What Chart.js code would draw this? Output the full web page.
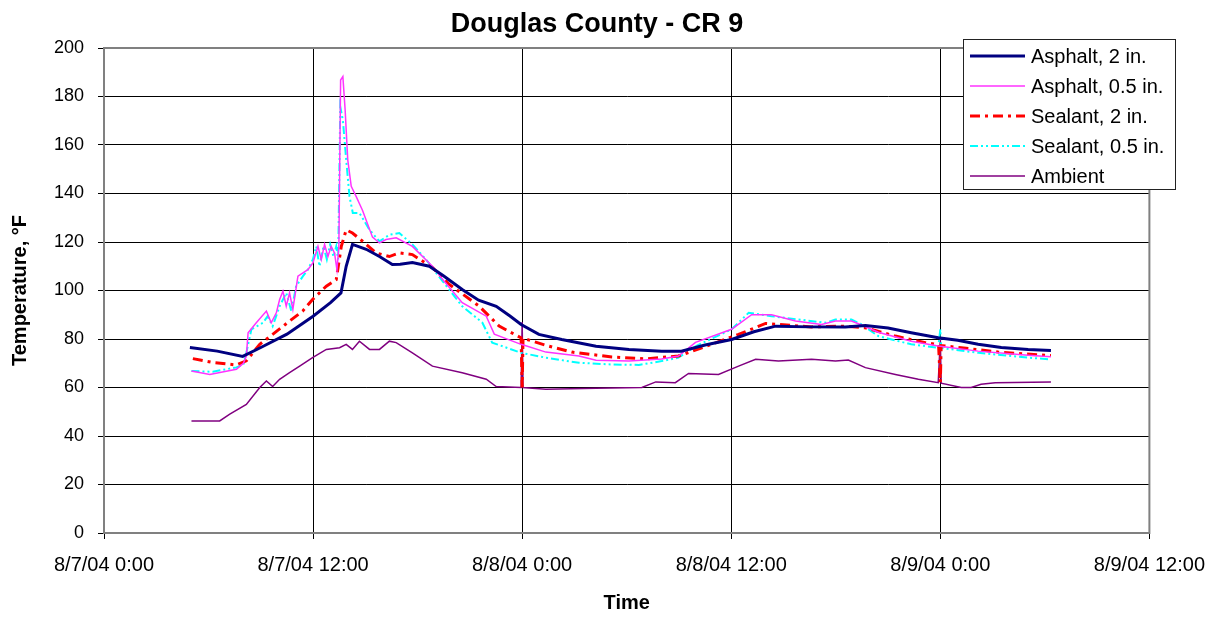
<!DOCTYPE html>
<html>
<head>
<meta charset="utf-8">
<title>Douglas County - CR 9</title>
<script src="https://cdn.jsdelivr.net/npm/chart.js@4.4.1/dist/chart.umd.min.js"></script>
<style>
  html, body { margin: 0; padding: 0; background: #fff; }
  #wrap { width: 1219px; height: 617px; }
</style>
</head>
<body>
<div id="wrap"><canvas id="tempChart" width="1219" height="617"></canvas></div>
<script>
// Hours since 8/7/04 0:00, temperature in °F
const tickLabels = ['8/7/04 0:00', '8/7/04 12:00', '8/8/04 0:00', '8/8/04 12:00', '8/9/04 0:00', '8/9/04 12:00'];
const seriesNames = ['Asphalt, 2 in.', 'Asphalt, 0.5 in.', 'Sealant, 2 in.', 'Sealant, 0.5 in.', 'Ambient'];

const asphalt2 = [
    [4.93, 76.5], [6.5, 75], [7.96, 72.8], [9.0, 76.5], [10.5, 82], [12.0, 89.4], [13.0, 95], [13.6, 99],
    [13.9, 110], [14.26, 119], [14.66, 118], [15.05, 117], [15.81, 114], [16.55, 110.7], [17.0, 110.8],
    [17.7, 111.5], [18.67, 110], [19.5, 106], [20.56, 100.4], [21.5, 96], [22.51, 93.5], [23.3, 89.5],
    [23.94, 86], [24.96, 81.9], [26.27, 79.8], [28.24, 77], [30.13, 75.7], [32.01, 75], [33.14, 75],
    [34.5, 77.5], [36.02, 79.8], [37.3, 83], [38.54, 85.3], [40.5, 85], [42.55, 84.9], [43.7, 85.6],
    [45.0, 84.5], [46.33, 82.6], [47.88, 80.5], [49.0, 79.5], [50.17, 77.8], [51.5, 76.5], [53.04, 75.7],
    [54.35, 75.3]
];

const asphalt05 = [
    [5.02, 66.8], [6.07, 65.4], [7.6, 67.5], [8.0, 70], [8.17, 73], [8.27, 82.6], [8.74, 86.7], [9.32, 91.5],
    [9.6, 86.7], [9.89, 90.8], [10.08, 96.3], [10.27, 99.7], [10.46, 93.5], [10.65, 99], [10.84, 92.2],
    [11.13, 105.9], [11.42, 107.3], [11.7, 108.6], [11.99, 111.4], [12.28, 118.2], [12.47, 112.8],
    [12.66, 119], [12.85, 114], [13.04, 118.2], [13.23, 115.5], [13.37, 108.6], [13.48, 118.2],
    [13.58, 186.8], [13.71, 188.2], [13.84, 174.5], [13.99, 153.9], [14.19, 143], [14.47, 138.8],
    [14.84, 133], [15.41, 122], [15.81, 119.6], [16.19, 121], [16.77, 121.7], [17.7, 118.2], [18.85, 110],
    [19.5, 104], [20.56, 95], [21.94, 89.4], [22.4, 82], [23.94, 77.8], [25.36, 74.6], [27.26, 73],
    [28.24, 71.2], [30.13, 70.9], [32.01, 71.8], [32.97, 73], [33.95, 78.6], [36.02, 84], [37.17, 90],
    [38.31, 90], [39.69, 87.4], [41.18, 86], [41.98, 87.4], [42.9, 87.4], [43.41, 86], [44.44, 82.8],
    [46.33, 79.1], [47.88, 77.1], [50.17, 75], [53.04, 73.3], [54.35, 72.7]
];

const sealant2 = [
    [5.1, 71.9], [6.24, 70.3], [7.6, 69.3], [8.17, 71], [8.94, 77.8], [9.68, 81.9], [10.65, 87.4],
    [11.4, 91.5], [11.97, 96.3], [12.76, 101.8], [13.33, 104.5], [13.62, 118.2], [13.9, 125], [14.26, 123.7],
    [14.84, 120.3], [15.62, 115.5], [16.38, 114], [16.95, 115.5], [17.7, 114.8], [18.85, 109.5],
    [19.82, 102.5], [21.54, 93.5], [22.68, 85.3], [23.94, 80.5], [24.0, 60], [24.05, 80.3], [25.36, 77.4],
    [26.86, 74.6], [29.15, 72.6], [31.1, 71.8], [32.97, 73], [34.87, 77.8], [36.42, 81.9], [37.97, 86.4],
    [40.61, 85], [42.55, 85.3], [43.7, 84.6], [45.42, 81.2], [47.14, 78.5], [47.9, 77.6], [48.0, 62],
    [48.05, 77.3], [49.2, 76.4], [51.32, 74.6], [54.01, 73.3], [54.35, 73.2]
];

const sealant05 = [
    [5.02, 66.8], [6.24, 66.5], [7.6, 68.3], [8.0, 69.5], [8.17, 74.3], [8.46, 84], [9.13, 86.7], [9.39, 89.4],
    [9.68, 85.3], [10.08, 93.5], [10.46, 99], [10.75, 91.5], [11.03, 101.8], [11.42, 105.9], [11.7, 108.6],
    [11.99, 112.8], [12.18, 118.2], [12.37, 110], [12.6, 118.2], [12.79, 112.8], [12.98, 119], [13.17, 114],
    [13.33, 118.2], [13.44, 112.8], [13.56, 175.8], [13.71, 170.3], [13.9, 153.9], [14.09, 138.8],
    [14.28, 132], [14.66, 132], [15.24, 125], [15.81, 120.3], [16.38, 123], [16.95, 123.7], [17.7, 119],
    [18.48, 112.8], [19.06, 107.3], [20.56, 93.5], [21.71, 86.8], [22.28, 78.5], [23.94, 74.3],
    [25.36, 72.3], [27.26, 70.2], [29.15, 69.5], [30.7, 69.3], [32.01, 70.9], [32.97, 72.3], [33.95, 77],
    [36.02, 84], [37.0, 90.8], [38.31, 89.4], [41.41, 86.7], [41.98, 88], [42.9, 88], [43.41, 86.3],
    [44.44, 81.2], [46.33, 77.8], [47.88, 76.4], [48.0, 84], [48.05, 76.3], [50.17, 74.3], [53.04, 72.3],
    [54.35, 71.6]
];

const ambient = [
    [5.02, 46.2], [6.64, 46.2], [7.22, 49], [8.17, 53], [8.94, 60], [9.32, 62.7], [9.68, 60.4], [10.08, 63.4],
    [10.65, 66.1], [11.23, 68.8], [11.97, 72.3], [12.76, 75.7], [13.52, 76.4], [13.9, 77.8], [14.26, 75.7],
    [14.66, 79.1], [15.24, 75.7], [15.81, 75.7], [16.38, 79.1], [16.77, 78.5], [17.7, 74.3], [18.85, 68.8],
    [20.56, 66.1], [21.94, 63.4], [22.51, 60.4], [23.94, 60], [24.0, 87], [24.05, 60], [25.36, 59.3],
    [28.24, 59.7], [30.87, 60], [31.67, 62.3], [32.79, 62], [33.55, 65.8], [35.27, 65.4], [36.42, 68.8],
    [37.4, 71.6], [38.71, 70.9], [40.61, 71.6], [41.98, 70.9], [42.72, 71.3], [43.7, 68.2], [45.42, 65.4],
    [46.74, 63.4], [47.88, 62], [48.0, 80], [48.05, 61.8], [49.2, 60], [49.77, 60], [50.34, 61.3],
    [51.15, 62], [54.35, 62.3]
];

const FONT = "'Liberation Sans', Arial, sans-serif";

function toPoints(arr) {
    return arr.map(p => ({ x: p[0], y: p[1] }));
}

// Title drawn by hand so it sits where the original one does
const titlePlugin = {
    id: 'titlePlugin',
    afterDraw(chart) {
        const ctx = chart.ctx;
        ctx.save();
        ctx.fillStyle = '#000';
        ctx.font = 'bold 27px ' + FONT;
        ctx.textAlign = 'center';
        ctx.textBaseline = 'alphabetic';
        ctx.fillText('Douglas County - CR 9', 597, 32);
        ctx.restore();
    }
};

// Gray frame round the plot area
const framePlugin = {
    id: 'framePlugin',
    beforeDatasetsDraw(chart) {
        const a = chart.chartArea;
        const ctx = chart.ctx;
        ctx.save();
        ctx.strokeStyle = '#808080';
        ctx.lineWidth = 2;
        ctx.strokeRect(a.left, a.top, a.right - a.left, a.bottom - a.top);
        ctx.restore();
    }
};

// Excel style boxed legend over the top right corner
const legendBoxPlugin = {
    id: 'legendBoxPlugin',
    afterDraw(chart) {
        const ctx = chart.ctx;
        const x0 = 963, y0 = 39, w = 212, h = 150;
        ctx.save();
        ctx.fillStyle = '#fff';
        ctx.fillRect(x0, y0, w, h);
        ctx.strokeStyle = '#222';
        ctx.lineWidth = 1;
        ctx.strokeRect(x0 + 0.5, y0 + 0.5, w, h);
        ctx.font = '20px ' + FONT;
        ctx.textBaseline = 'middle';
        ctx.textAlign = 'left';
        chart.data.datasets.forEach((ds, i) => {
            const yy = y0 + 17 + i * 30;
            ctx.beginPath();
            ctx.strokeStyle = ds.borderColor;
            ctx.lineWidth = ds.borderWidth;
            ctx.setLineDash(ds.borderDash || []);
            ctx.moveTo(970, yy);
            ctx.lineTo(1025, yy);
            ctx.stroke();
            ctx.setLineDash([]);
            ctx.fillStyle = '#000';
            ctx.fillText(ds.label, 1031, yy + 1);
        });
        ctx.restore();
    }
};

const ctx = document.getElementById('tempChart').getContext('2d');
const tempChart = new Chart(ctx, {
    type: 'line',
    data: {
        datasets: [
            { label: seriesNames[0], data: toPoints(asphalt2), borderColor: '#000080', borderWidth: 3 },
            { label: seriesNames[1], data: toPoints(asphalt05), borderColor: '#ff33ff', borderWidth: 1.5 },
            { label: seriesNames[2], data: toPoints(sealant2), borderColor: '#ff0000', borderWidth: 3, borderDash: [10, 5, 3, 5] },
            { label: seriesNames[3], data: toPoints(sealant05), borderColor: '#00ffff', borderWidth: 2, borderDash: [8, 3, 2, 3, 2, 3] },
            { label: seriesNames[4], data: toPoints(ambient), borderColor: '#800080', borderWidth: 1.5 }
        ]
    },
    options: {
        responsive: false,
        animation: false,
        devicePixelRatio: 1,
        layout: { padding: { top: 48, right: 67, left: 0, bottom: 0 } },
        elements: {
            point: { radius: 0, hoverRadius: 0 },
            line: { tension: 0, fill: false }
        },
        plugins: {
            legend: { display: false },
            title: { display: false },
            tooltip: { enabled: false }
        },
        scales: {
            x: {
                type: 'linear',
                min: 0,
                max: 60,
                afterFit: scale => { scale.height = 84; },
                grid: { color: '#000', lineWidth: 1, tickLength: 6 },
                border: { color: '#808080', width: 2 },
                ticks: {
                    stepSize: 12,
                    color: '#000',
                    font: { family: FONT, size: 20 },
                    padding: 14,
                    maxRotation: 0,
                    autoSkip: false,
                    callback: v => tickLabels[Math.round(v / 12)]
                },
                title: {
                    display: true,
                    text: 'Time',
                    color: '#000',
                    font: { family: FONT, size: 20, weight: 'bold' },
                    padding: { top: 0, bottom: 2 }
                }
            },
            y: {
                min: 0,
                max: 200,
                afterFit: scale => { scale.width = 104; },
                grid: { color: '#000', lineWidth: 1, tickLength: 6 },
                border: { color: '#808080', width: 2 },
                ticks: {
                    stepSize: 20,
                    color: '#000',
                    font: { family: FONT, size: 18 },
                    padding: 14
                },
                title: {
                    display: true,
                    text: 'Temperature, °F',
                    color: '#000',
                    font: { family: FONT, size: 20, weight: 'bold' },
                    padding: { top: 8, bottom: 0 }
                }
            }
        }
    },
    plugins: [framePlugin, legendBoxPlugin, titlePlugin]
});
</script>
</body>
</html>
